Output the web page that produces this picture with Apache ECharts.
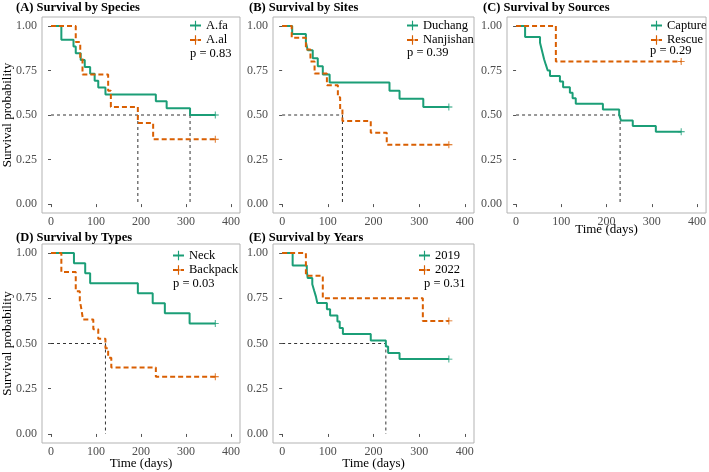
<!DOCTYPE html>
<html>
<head>
<meta charset="utf-8">
<script src="https://cdn.jsdelivr.net/npm/echarts@6/dist/echarts.min.js"></script>
<style>html,body{margin:0;padding:0;background:#fff}#c{width:709px;height:472px}</style>
</head>
<body>
<div id="c"></div>
<script>
// ---- tick labels ----
const xTicks = [0, 100, 200, 300, 400];
const yTicks = [0, 0.25, 0.5, 0.75, 1];

// ---- (A) Species ----
const A_fa_t = [0, 23, 50, 55, 66, 75, 87, 97, 105, 121, 233, 257, 309, 365];
const A_fa_s = [1, 0.923, 0.885, 0.846, 0.808, 0.769, 0.731, 0.692, 0.654, 0.615, 0.577, 0.538, 0.5, 0.5];
const A_al_t = [0, 55, 65, 70, 127, 133, 193, 227, 365];
const A_al_s = [1, 0.909, 0.818, 0.727, 0.636, 0.545, 0.455, 0.364, 0.364];
const A_medians = [193, 309];

// ---- (B) Sites ----
const B_du_t = [0, 22, 52, 56, 67, 78, 89, 104, 235, 257, 309, 365];
const B_du_s = [1, 0.955, 0.909, 0.864, 0.818, 0.773, 0.727, 0.682, 0.636, 0.591, 0.545, 0.545];
const B_nj_t = [0, 21, 52, 62, 71, 98, 122, 127, 132, 194, 229, 365];
const B_nj_s = [1, 0.933, 0.867, 0.8, 0.733, 0.667, 0.6, 0.533, 0.467, 0.4, 0.333, 0.333];
const B_medians = [132];

// ---- (C) Sources ----
const C_cap_t = [0, 20, 53, 56, 59, 62, 66, 70, 75, 97, 104, 119, 125, 132, 192, 228, 232, 258, 309, 365];
const C_cap_s = [1, 0.938, 0.906, 0.875, 0.844, 0.813, 0.781, 0.75, 0.719, 0.688, 0.656, 0.625, 0.594, 0.563, 0.531, 0.5, 0.469, 0.438, 0.406, 0.406];
const C_res_t = [0, 88, 365];
const C_res_s = [1, 0.8, 0.8];
const C_medians = [230];

// ---- (D) Types ----
const D_neck_t = [0, 51, 76, 87, 193, 226, 253, 308, 365];
const D_neck_s = [1, 0.944, 0.889, 0.833, 0.778, 0.722, 0.667, 0.611, 0.611];
const D_back_t = [0, 23, 55, 64, 68, 71, 94, 105, 121, 127, 134, 233, 365];
const D_back_s = [1, 0.895, 0.789, 0.737, 0.684, 0.632, 0.579, 0.526, 0.474, 0.421, 0.368, 0.316, 0.316];
const D_medians = [121];

// ---- (E) Years ----
const E_19_t = [0, 23, 54, 56, 66, 70, 74, 77, 98, 105, 121, 126, 133, 194, 227, 232, 257, 365];
const E_19_s = [1, 0.931, 0.897, 0.862, 0.828, 0.793, 0.759, 0.724, 0.69, 0.655, 0.621, 0.586, 0.552, 0.517, 0.483, 0.448, 0.414, 0.414];
const E_22_t = [0, 52, 89, 308, 365];
const E_22_s = [1, 0.875, 0.75, 0.625, 0.625];
const E_medians = [227];

const titles = ['(A) Survival by Species', '(B) Survival by Sites', '(C) Survival by Sources', '(D) Survival by Types', '(E) Survival by Years'];
const groupNames = [['A.fa', 'A.al'], ['Duchang', 'Nanjishan'], ['Capture', 'Rescue'], ['Neck', 'Backpack'], ['2019', '2022']];
const pValues = ['p = 0.83', 'p = 0.39', 'p = 0.29', 'p = 0.03', 'p = 0.31'];

const curves = [
  [[A_fa_t, A_fa_s], [A_al_t, A_al_s]],
  [[B_du_t, B_du_s], [B_nj_t, B_nj_s]],
  [[C_cap_t, C_cap_s], [C_res_t, C_res_s]],
  [[D_neck_t, D_neck_s], [D_back_t, D_back_s]],
  [[E_19_t, E_19_s], [E_22_t, E_22_s]]
];
const medians = [A_medians, B_medians, C_medians, D_medians, E_medians];

// ---- layout (not data) ----
const FONT = 'Liberation Serif';
const GREEN = '#1b9e77', ORANGE = '#d95f02';
const grids = [
  {left: 40, top: 17, width: 200, height: 196},
  {left: 273, top: 17, width: 201, height: 196},
  {left: 507, top: 17, width: 201, height: 196},
  {left: 40, top: 244, width: 200, height: 199},
  {left: 273, top: 244, width: 201, height: 199}
];
const titlePos = [[16, 1], [249, 1], [483, 1], [16, 231], [249, 231]];
const legendPos = [[189, 19], [406, 19], [650, 19], [172, 249], [418, 249]];
const pPos = [[190, 47], [407, 46], [650, 44], [173, 277], [424, 277]];
const showYName = [true, false, false, true, false];
const showXName = [false, false, true, true, true];
const xNameGap = [0, 0, 10, 14, 14];

const plus = 'path://M4.4,0H5.6V4.4H10V5.6H5.6V10H4.4V5.6H0V4.4H4.4Z';

const option = {
  animation: false,
  backgroundColor: '#fff',
  title: [],
  legend: [],
  grid: [],
  xAxis: [],
  yAxis: [],
  series: []
};

for (let i = 0; i < 5; i++) {
  option.grid.push(Object.assign({show: true, borderColor: '#b3b3b3', borderWidth: 1, backgroundColor: 'transparent'}, grids[i]));
  option.title.push({
    text: titles[i], left: titlePos[i][0], top: titlePos[i][1], padding: 0,
    textStyle: {fontFamily: FONT, fontWeight: 'bold', fontSize: 12.5, color: '#000', lineHeight: 14}
  });
  option.title.push({
    text: pValues[i], left: pPos[i][0], top: pPos[i][1], padding: 0,
    textStyle: {fontFamily: FONT, fontWeight: 'normal', fontSize: 12.5, color: '#000', lineHeight: 13}
  });
  option.legend.push({
    data: groupNames[i], orient: 'vertical', left: legendPos[i][0], top: legendPos[i][1],
    padding: 0, itemGap: 1.5, itemWidth: 11, itemHeight: 12, selectedMode: false,
    textStyle: {fontFamily: FONT, fontSize: 12.5, color: '#000'}
  });
  option.xAxis.push({
    type: 'value', gridIndex: i, min: -20, max: 420,
    name: showXName[i] ? 'Time (days)' : '', nameLocation: 'middle', nameGap: xNameGap[i],
    nameMoveOverlap: false,
    nameTextStyle: {fontFamily: FONT, fontSize: 13, color: '#000', verticalAlign: 'top'},
    axisLine: {show: false},
    axisTick: {show: true, customValues: xTicks, length: 3, lineStyle: {color: '#555'}},
    axisLabel: {customValues: xTicks, margin: 3, fontFamily: FONT, fontSize: 12, color: '#4d4d4d'},
    splitLine: {show: false}
  });
  option.yAxis.push({
    type: 'value', gridIndex: i, min: -0.05, max: 1.05,
    name: showYName[i] ? 'Survival probability' : '', nameLocation: 'middle', nameGap: 28,
    nameMoveOverlap: false,
    nameTextStyle: {fontFamily: FONT, fontSize: 13, color: '#000'},
    axisLine: {show: false},
    axisTick: {show: true, customValues: yTicks, length: 3, lineStyle: {color: '#555'}},
    axisLabel: {customValues: yTicks, margin: 5, fontFamily: FONT, fontSize: 12, color: '#4d4d4d',
      formatter: v => v.toFixed(2)},
    splitLine: {show: false}
  });

  // median reference lines
  const mx = Math.max.apply(null, medians[i]);
  const medStyle = {color: '#333', width: 1, type: [3, 3]};
  option.series.push({
    type: 'line', xAxisIndex: i, yAxisIndex: i, data: [[0, 0.5], [mx, 0.5]],
    symbol: 'none', silent: true, lineStyle: medStyle, z: 1
  });
  medians[i].forEach(m => {
    option.series.push({
      type: 'line', xAxisIndex: i, yAxisIndex: i, data: [[m, 0.5], [m, 0]],
      symbol: 'none', silent: true, lineStyle: medStyle, z: 1
    });
  });

  // survival curves
  curves[i].forEach((c, g) => {
    const t = c[0], s = c[1];
    const data = t.map((tv, k) => [tv, s[k]]);
    const last = data.length - 1;
    const col = g === 0 ? GREEN : ORANGE;
    option.series.push({
      type: 'line', name: groupNames[i][g], xAxisIndex: i, yAxisIndex: i,
      step: 'end', data: data, showSymbol: true, symbol: plus,
      symbolSize: (v, p) => (p.dataIndex === last ? 7 : 0),
      itemStyle: {color: col},
      lineStyle: {color: col, width: 2, type: g === 0 ? 'solid' : [5, 3]},
      z: 3, silent: true
    });
  });
}

const chart = echarts.init(document.getElementById('c'), null, {renderer: 'canvas'});
chart.setOption(option);
</script>
</body>
</html>
